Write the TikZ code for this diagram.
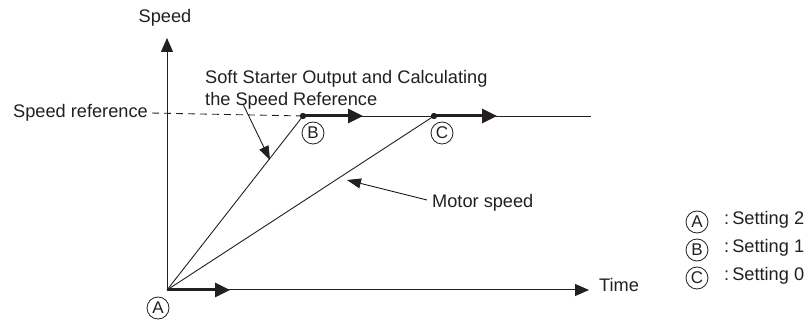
\documentclass[tikz,border=0pt]{standalone}
\usepackage{fontspec}
\setmainfont{Liberation Sans}
\usetikzlibrary{arrows.meta}
\definecolor{ink}{RGB}{35,31,32}
\begin{document}
\begin{tikzpicture}[x=1pt,y=-1pt,
  every node/.style={text=ink,inner sep=0pt,font=\fontsize{18.2}{22}\selectfont},
  thinline/.style={draw=ink,line width=0.9pt},
  axisline/.style={draw=ink,line width=1pt,-{Triangle[length=14pt,width=12pt]}},
  boldarrow/.style={draw=ink,line width=3pt,-{Triangle[length=15pt,width=14pt]}},
  pointer/.style={draw=ink,line width=0.9pt,-{Triangle[length=14pt,width=10pt]}},
  circlab/.style={circle,draw=ink,line width=0.8pt,minimum size=22pt,font=\fontsize{17}{20}\selectfont},
  dotmark/.style={circle,fill=ink,minimum size=6pt}
]
\useasboundingbox (0,0) rectangle (809,320);
% key points
\coordinate (O) at (167,290);
\coordinate (ytip) at (167,38);
\coordinate (xtip) at (589,290);
\node[dotmark] (B) at (303,116) {};
\node[dotmark] (C) at (434,116) {};
\coordinate (refend) at (591,116);
\coordinate (Btip) at (363,116);
\coordinate (Ctip) at (497,116);
\coordinate (Otip) at (230,290);
% axes
\draw[axisline] (O) -- (ytip);
\draw[axisline] (O) -- (xtip);
% labels
\node[anchor=mid] (speed) at (165,20) {Speed};
\node[anchor=mid west] (time) at (599,289) {Time};
\node[anchor=mid east] (sref) at (148,115) {Speed reference};
\node[anchor=north west,align=left] (soft) at (205,70) {Soft Starter Output and Calculating\\the Speed Reference};
\node[anchor=mid west] (motor) at (432,205) {Motor speed};
% reference line
\draw[thinline,dash pattern=on 7pt off 5pt,dash phase=-4pt] (sref.east) -- (B.center);
\draw[thinline] (B.center) -- (refend);
% ramps
\draw[thinline] (O) -- (B.center);
\draw[thinline] (O) -- (C.center);
% bold arrows
\draw[boldarrow] (B.center) -- (Btip);
\draw[boldarrow] (C.center) -- (Ctip);
\draw[boldarrow] (O) -- (Otip);
\node[dotmark] at (B) {};
\node[dotmark] at (C) {};
% pointers
\coordinate (p1s) at (243,104);
\coordinate (p1e) at (270,160);
\draw[pointer] (p1s) -- (p1e);
\coordinate (p2e) at (347,180);
\draw[pointer] (427,200) coordinate (p2s) -- (p2e);
% circled letters
\node[circlab] (cA) at (158,308) {A};
\node[circlab] (cB) at (313,133) {B};
\node[circlab] (cC) at (442,133) {C};
% legend
\node[circlab] (lA) at (697,222) {A};
\node[circlab] (lB) at (697,250) {B};
\node[circlab] (lC) at (697,278) {C};
\node[anchor=mid west] (tA) at (724,222) {:\,Setting 2};
\node[anchor=mid west] (tB) at (724,250) {:\,Setting 1};
\node[anchor=mid west] (tC) at (724,278) {:\,Setting 0};
\end{tikzpicture}
\end{document}
